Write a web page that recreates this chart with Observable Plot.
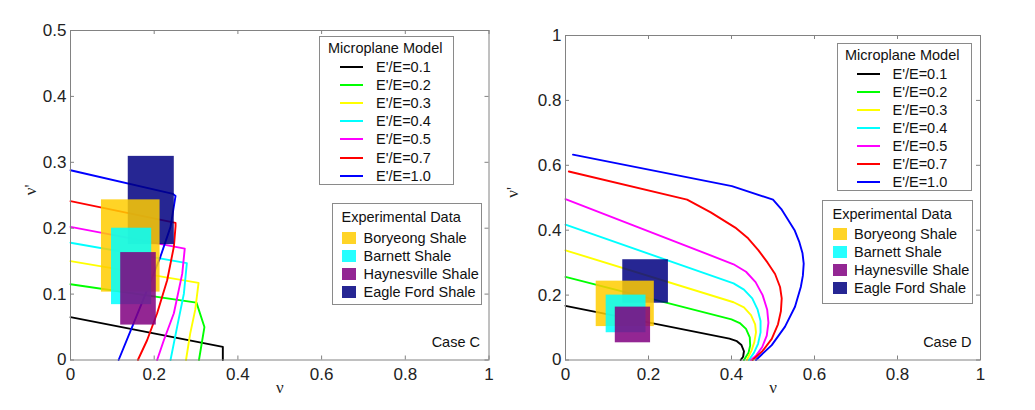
<!DOCTYPE html>
<html><head><meta charset="utf-8">
<script src="https://cdn.jsdelivr.net/npm/d3@7"></script>
<script src="https://cdn.jsdelivr.net/npm/@observablehq/plot@0.6"></script>
<style>
body{margin:0;background:#fff;}
#wrap{position:relative;width:1035px;height:410px;overflow:hidden;font-family:"Liberation Sans",Arial,sans-serif;background:#fff;}
.panel{position:absolute;top:0;}
.lg{position:absolute;border:1px solid #8a8a8a;background:#fff;box-sizing:border-box;font-size:14.5px;color:#111;}
.lg .t{position:absolute;white-space:nowrap;line-height:16px;}
.lg .ln{position:absolute;height:2px;}
.lg .sw{position:absolute;}
</style></head><body><div id="wrap"></div>
<script>
// ---------- data ----------
const seriesLabels = ["E'/E=0.1","E'/E=0.2","E'/E=0.3","E'/E=0.4","E'/E=0.5","E'/E=0.7","E'/E=1.0"];
const seriesColors = ["#000000","#00ff00","#ffff00","#00ffff","#ff00ff","#ff0000","#0000ff"];

// Case C curves: [nu, nu']
const caseC_01 = [[0,0.065],[0.364,0.020],[0.364,0]];
const caseC_02 = [[0,0.115],[0.301,0.087],[0.320,0.050],[0.307,0]];
const caseC_03 = [[0,0.150],[0.306,0.117],[0.298,0.076],[0.286,0.040],[0.276,0]];
const caseC_04 = [[0,0.178],[0.278,0.147],[0.271,0.101],[0.255,0.051],[0.239,0]];
const caseC_05 = [[0,0.202],[0.273,0.169],[0.267,0.131],[0.247,0.071],[0.223,0.030],[0.207,0]];
const caseC_07 = [[0,0.241],[0.251,0.208],[0.251,0.203],[0.247,0.172],[0.231,0.121],[0.207,0.071],[0.183,0.030],[0.161,0]];
const caseC_10 = [[0,0.288],[0.245,0.252],[0.251,0.249],[0.239,0.202],[0.215,0.157],[0.183,0.106],[0.151,0.056],[0.115,0]];

// Case D curves: [nu, nu']
const caseD_01 = [[0,0.167],[0.395,0.066],[0.413,0.058],[0.424,0.046],[0.430,0.027],[0.428,0.010],[0.422,0]];
const caseD_02 = [[0,0.256],[0.400,0.125],[0.420,0.114],[0.435,0.096],[0.444,0.070],[0.445,0.045],[0.441,0.022],[0.430,0]];
const caseD_03 = [[0,0.338],[0.405,0.178],[0.430,0.162],[0.447,0.138],[0.457,0.110],[0.459,0.085],[0.455,0.055],[0.448,0.028],[0.437,0]];
const caseD_04 = [[0,0.417],[0.405,0.236],[0.430,0.217],[0.450,0.190],[0.463,0.155],[0.470,0.120],[0.470,0.085],[0.464,0.050],[0.454,0.022],[0.442,0]];
const caseD_05 = [[0,0.496],[0.405,0.295],[0.435,0.272],[0.458,0.240],[0.475,0.200],[0.486,0.155],[0.489,0.115],[0.485,0.075],[0.474,0.040],[0.460,0.015],[0.447,0]];
const caseD_07 = [[0.008,0.581],[0.293,0.494],[0.350,0.455],[0.409,0.408],[0.440,0.375],[0.465,0.338],[0.487,0.300],[0.505,0.265],[0.517,0.225],[0.521,0.190],[0.519,0.150],[0.512,0.110],[0.497,0.065],[0.475,0.028],[0.451,0]];
const caseD_10 = [[0.018,0.633],[0.401,0.536],[0.500,0.494],[0.520,0.465],[0.537,0.431],[0.552,0.400],[0.563,0.365],[0.571,0.330],[0.574,0.297],[0.572,0.260],[0.567,0.225],[0.553,0.164],[0.529,0.103],[0.497,0.046],[0.459,0]];

// experimental data boxes
const shales    = ["Boryeong Shale","Barnett Shale","Haynesville Shale","Eagle Ford Shale"];
const shaleColors = ["#ffcc00","#00ffff","#800080","#000080"];
const nuMin  = [0.074,0.098,0.120,0.138];
const nuMax  = [0.214,0.194,0.205,0.248];
const nupMin = [0.103,0.084,0.053,0.175];
const nupMax = [0.243,0.200,0.163,0.309];
const drawOrder = [3,0,1,2];

// ticks
const xTicks = [0,0.2,0.4,0.6,0.8,1];
const xTickLabels = ["0","0.2","0.4","0.6","0.8","1"];
const yTicksC = [0,0.1,0.2,0.3,0.4,0.5];
const yTickLabelsC = ["0","0.1","0.2","0.3","0.4","0.5"];
const yTicksD = [0,0.2,0.4,0.6,0.8,1];
const yTickLabelsD = ["0","0.2","0.4","0.6","0.8","1"];

// ---------- build ----------
function toRows(arrs){
  const rows=[];
  arrs.forEach((a,i)=>a.forEach(([nu,nup])=>rows.push({series:seriesLabels[i],nu,nup})));
  return rows;
}
const rowsC = toRows([caseC_01,caseC_02,caseC_03,caseC_04,caseC_05,caseC_07,caseC_10]);
const rowsD = toRows([caseD_01,caseD_02,caseD_03,caseD_04,caseD_05,caseD_07,caseD_10]);
const boxes = shales.map((s,i)=>({shale:s,color:shaleColors[i],x1:nuMin[i],x2:nuMax[i],y1:nupMin[i],y2:nupMax[i]}));

const axisGray = "#828282";
function panel({rows, yDomain, yTicks, yLabels, width, height, mt, mr, mb, ml, caseLabel, ylabDx}){
  const pw = width-ml-mr, ph = height-mt-mb;
  const marks = [
    Plot.line(rows,{x:"nu",y:"nup",z:"series",stroke:"series",strokeWidth:1.9}),
    ...drawOrder.map(i=>Plot.rect([boxes[i]],{x1:"x1",x2:"x2",y1:"y1",y2:"y2",fill:boxes[i].color,fillOpacity:0.85})),
    Plot.frame({stroke:axisGray}),
    Plot.tickX(xTicks,{x:d=>d,insetTop:ph-4,stroke:axisGray}),
    Plot.tickX(xTicks,{x:d=>d,insetBottom:ph-4,stroke:axisGray}),
    Plot.tickY(yTicks,{y:d=>d,insetRight:pw-4,stroke:axisGray}),
    Plot.tickY(yTicks,{y:d=>d,insetLeft:pw-4,stroke:axisGray}),
    Plot.axisX({ticks:xTicks,tickSize:0,tickPadding:8,fontSize:17,label:null,tickFormat:d=>xTickLabels[xTicks.indexOf(d)]}),
    Plot.axisY({ticks:yTicks,tickSize:0,tickPadding:4,fontSize:17,label:null,tickFormat:d=>yLabels[yTicks.indexOf(d)]}),
    Plot.text(["ν"],{frameAnchor:"bottom",dy:33,fontSize:17,fontFamily:"Liberation Serif",fill:"#222"}),
    Plot.text(["ν'"],{frameAnchor:"left",dx:ylabDx,rotate:-90,fontSize:17,fontFamily:"Liberation Serif",fill:"#222"}),
    Plot.text([caseLabel],{frameAnchor:"bottom-right",dx:-9,dy:-13,textAnchor:"end",fontSize:14.5,fill:"#111"})
  ];
  return Plot.plot({
    width,height,marginTop:mt,marginRight:mr,marginBottom:mb,marginLeft:ml,
    x:{domain:[0,1]},
    y:{domain:yDomain},
    color:{domain:seriesLabels,range:seriesColors},
    style:{fontFamily:"'Liberation Sans',Arial,sans-serif",color:"#222",background:"transparent",overflow:"visible"},
    marks
  });
}

const wrap = document.getElementById("wrap");
const left = panel({rows:rowsC,yDomain:[0,0.5],yTicks:yTicksC,yLabels:yTickLabelsC,width:500,height:410,mt:30,mr:11.5,mb:50.5,ml:70,caseLabel:"Case C",ylabDx:-40});
const right = panel({rows:rowsD,yDomain:[0,1],yTicks:yTicksD,yLabels:yTickLabelsD,width:535,height:410,mt:35,mr:55,mb:50.5,ml:65,caseLabel:"Case D",ylabDx:-53});
const pl = document.createElement("div"); pl.className="panel"; pl.style.left="0px"; pl.appendChild(left); wrap.appendChild(pl);
const pr = document.createElement("div"); pr.className="panel"; pr.style.left="500px"; pr.appendChild(right); wrap.appendChild(pr);

// ---------- legends (HTML overlay) ----------
function addEl(parent, cls, css, text){
  const e=document.createElement("div"); e.className=cls; Object.assign(e.style,css); if(text!=null) e.textContent=text; parent.appendChild(e); return e;
}
function modelLegend(L,T,W,H,titleX,titleCy,lineX,lineW,textX,firstCy){
  const b=addEl(wrap,"lg",{left:L+"px",top:T+"px",width:W+"px",height:H+"px"});
  addEl(b,"t",{left:titleX+"px",top:(titleCy-8)+"px"},"Microplane Model");
  seriesLabels.forEach((s,i)=>{
    const cy=firstCy+i*18.1;
    addEl(b,"ln",{left:lineX+"px",top:(cy-1)+"px",width:lineW+"px",background:seriesColors[i]});
    addEl(b,"t",{left:textX+"px",top:(cy-8)+"px"},s);
  });
}
function expLegend(L,T,W,H,titleX,titleCy,swX,swW,swH,textX,firstCy){
  const b=addEl(wrap,"lg",{left:L+"px",top:T+"px",width:W+"px",height:H+"px"});
  addEl(b,"t",{left:titleX+"px",top:(titleCy-8)+"px"},"Experimental Data");
  shales.forEach((s,i)=>{
    const cy=firstCy+i*18;
    addEl(b,"sw",{left:swX+"px",top:(cy-swH/2)+"px",width:swW+"px",height:swH+"px",background:shaleColors[i],opacity:0.85});
    addEl(b,"t",{left:textX+"px",top:(cy-8)+"px"},s);
  });
}
modelLegend(319,36,135,149,8,11,20,23,56,30);
expLegend(331.5,203,150,102,9,12.5,9,14,12,31,34);
modelLegend(836.5,42.5,135,148,7.5,11.5,19.5,23,55,30.3);
expLegend(822,200,150.5,103.5,9.5,12.7,9.5,14.5,12,31,32.8);
</script></body></html>
